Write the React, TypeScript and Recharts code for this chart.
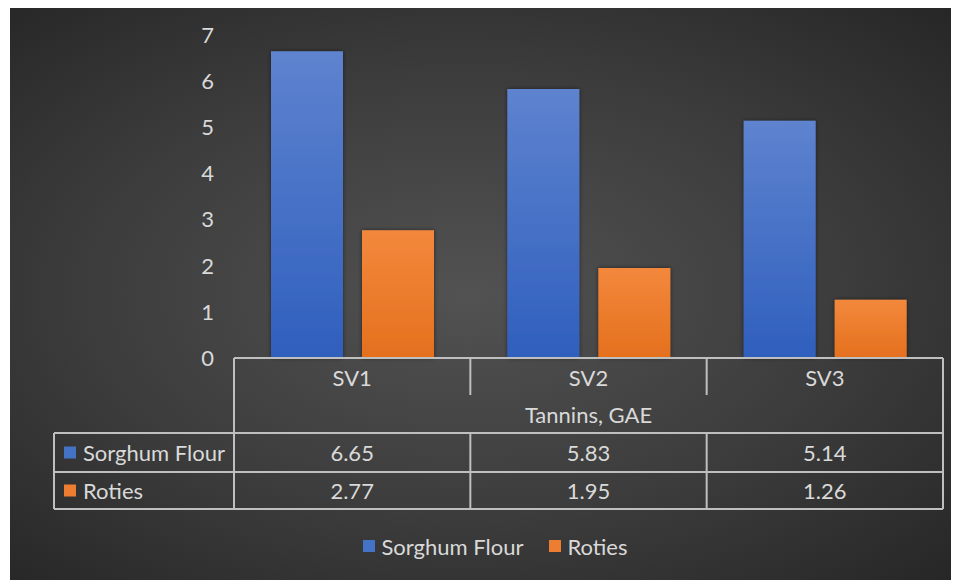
import React from "react";
import { BarChart, Bar, XAxis, YAxis, Legend } from "recharts";

const categories = ["SV1", "SV2", "SV3"];
const sorghumFlour = [6.65, 5.83, 5.14];
const roties = [2.77, 1.95, 1.26];
const yTicks = [0, 1, 2, 3, 4, 5, 6, 7];
const tableTitle = "Tannins, GAE";

const series = [
  { key: "sorghum", name: "Sorghum Flour", values: sorghumFlour, color: "#4472C4", grad: "gradBlue" },
  { key: "roties", name: "Roties", values: roties, color: "#ED7D31", grad: "gradOrange" },
];

const data = categories.map((c, i) => ({
  name: c,
  sorghum: sorghumFlour[i],
  roties: roties[i],
}));

const FONT = "Lato, 'Open Sans', sans-serif";
const TEXT = "#d9d9d9";
const LINE = "#bfbfbf";
const FS = 22;

// row offsets under the axis line
const ROW_CAT = 37;
const ROW_TITLE = 75;
const ROW_S1 = 114;
const ROW_S2 = 151;
const LABEL_COL = 180;

const TableTick = (props: any) => {
  const { x, y, payload, index, visibleTicksCount } = props;
  const half = payload.offset || 118;
  const left = x - half;
  const right = x + half;
  const last = index === visibleTicksCount - 1;
  const plotLeft = left - index * half * 2;
  const plotRight = plotLeft + visibleTicksCount * half * 2;
  const labelLeft = plotLeft - LABEL_COL;
  const i = categories.indexOf(payload.value);
  return (
    <g fontFamily={FONT} fontSize={FS} fill={TEXT}>
      {index === 0 && (
        <g>
          <line x1={plotLeft} x2={plotLeft} y1={y} y2={y + ROW_S2} stroke={LINE} strokeWidth={2} />
          <line x1={labelLeft} x2={labelLeft} y1={y + ROW_TITLE} y2={y + ROW_S2} stroke={LINE} strokeWidth={2} />
          {[ROW_TITLE, ROW_S1, ROW_S2].map((r) => (
            <line key={r} x1={labelLeft} x2={plotRight} y1={y + r} y2={y + r} stroke={LINE} strokeWidth={2} />
          ))}
          <text x={(plotLeft + plotRight) / 2} y={y + (ROW_CAT + ROW_TITLE) / 2} textAnchor="middle" dominantBaseline="central">
            {tableTitle}
          </text>
          {series.map((s, k) => {
            const top = k === 0 ? ROW_TITLE : ROW_S1;
            const bot = k === 0 ? ROW_S1 : ROW_S2;
            const cy = y + (top + bot) / 2;
            return (
              <g key={s.key}>
                <rect x={labelLeft + 10} y={cy - 6} width={12} height={12} fill={s.color} />
                <text x={labelLeft + 29} y={cy} dominantBaseline="central">{s.name}</text>
              </g>
            );
          })}
        </g>
      )}
      {last ? (
        <line x1={right} x2={right} y1={y} y2={y + ROW_S2} stroke={LINE} strokeWidth={2} />
      ) : (
        <g>
          <line x1={right} x2={right} y1={y} y2={y + ROW_CAT} stroke={LINE} strokeWidth={2} />
          <line x1={right} x2={right} y1={y + ROW_TITLE} y2={y + ROW_S2} stroke={LINE} strokeWidth={2} />
        </g>
      )}
      <text x={x} y={y + ROW_CAT / 2 + 1} textAnchor="middle" dominantBaseline="central">
        {payload.value}
      </text>
      {series.map((s, k) => {
        const top = k === 0 ? ROW_TITLE : ROW_S1;
        const bot = k === 0 ? ROW_S1 : ROW_S2;
        return (
          <text key={s.key} x={x} y={y + (top + bot) / 2} textAnchor="middle" dominantBaseline="central">
            {s.values[i].toFixed(2)}
          </text>
        );
      })}
    </g>
  );
};

const LegendContent = () => (
  <div
    style={{
      display: "flex",
      justifyContent: "center",
      alignItems: "center",
      height: 30,
      paddingLeft: 38,
      fontFamily: FONT,
      fontSize: FS,
      color: TEXT,
    }}
  >
    {series.map((s, k) => (
      <div key={s.key} style={{ display: "flex", alignItems: "center", marginLeft: k ? 26 : 0 }}>
        <span style={{ width: 12, height: 12, background: s.color, marginRight: 6, display: "inline-block" }} />
        <span>{s.name}</span>
      </div>
    ))}
  </div>
);

export default function App() {
  return (
    <div
      style={{
        marginLeft: 2,
        width: 949,
        height: 572,
        background: "radial-gradient(ellipse at 48% 50%, #525252 0%, #3c3c3c 55%, #262626 100%)",
      }}
    >
      <BarChart
        width={949}
        height={572}
        data={data}
        margin={{ top: 27, right: 16, bottom: 42, left: 0 }}
        barSize={72}
        barGap={19}
      >
        <defs>
          <linearGradient id="gradBlue" x1="0" y1="0" x2="0" y2="1">
            <stop offset="0%" stopColor="#5e83cf" />
            <stop offset="100%" stopColor="#2f5fbd" />
          </linearGradient>
          <linearGradient id="gradOrange" x1="0" y1="0" x2="0" y2="1">
            <stop offset="0%" stopColor="#f3883c" />
            <stop offset="100%" stopColor="#e4701e" />
          </linearGradient>
          <filter id="shadow" x="-20%" y="-10%" width="140%" height="120%">
            <feDropShadow dx="0" dy="0" stdDeviation="2" floodColor="#000" floodOpacity="0.5" />
          </filter>
        </defs>
        <XAxis
          dataKey="name"
          height={150}
          tickLine={false}
          tickSize={0}
          tickMargin={0}
          axisLine={{ stroke: LINE, strokeWidth: 2 }}
          tick={<TableTick />}
          interval={0}
        />
        <YAxis
          width={224}
          domain={[0, 7]}
          ticks={yTicks}
          tickLine={false}
          axisLine={false}
          tickSize={0}
          tickMargin={20}
          tick={{ fill: TEXT, fontSize: FS, fontFamily: FONT }}
        />
        <Legend
          verticalAlign="bottom"
          content={<LegendContent />}
          wrapperStyle={{ bottom: 19 }}
        />
        {series.map((s) => (
          <Bar
            key={s.key}
            dataKey={s.key}
            name={s.name}
            fill={`url(#${s.grad})`}
            filter="url(#shadow)"
            isAnimationActive={false}
          />
        ))}
      </BarChart>
    </div>
  );
}
